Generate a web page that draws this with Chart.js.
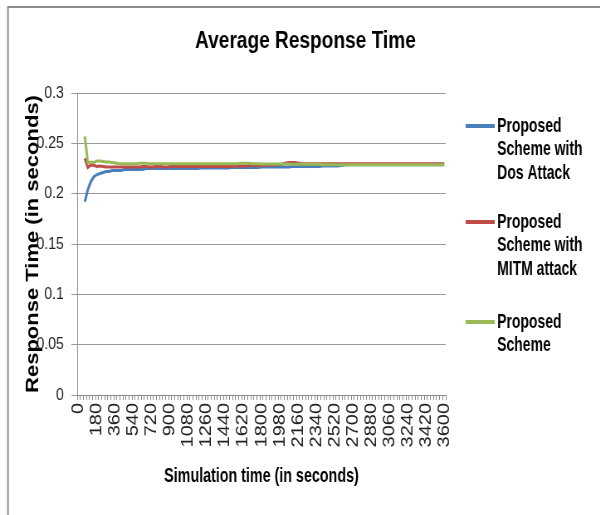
<!DOCTYPE html>
<html>
<head>
<meta charset="utf-8">
<script src="https://cdn.jsdelivr.net/npm/chart.js@4/dist/chart.umd.min.js"></script>
<style>
  html, body { margin: 0; padding: 0; background: #fff; overflow: hidden; width: 600px; height: 515px; }
  /* the chart is laid out on a wider box and narrowed horizontally */
  #wrap { position: absolute; left: 0; top: 0; width: 723px; height: 515px; transform: scaleX(0.83); transform-origin: 0 0; }
</style>
</head>
<body>
<div id="wrap"><canvas id="chart"></canvas></div>
<script>
// Simulation time (s), one sample every 30 s
const simTimes = [
  0,30,60,90,120,150,180,210,240,270,300,330,360,390,420,450,480,510,540,570,
  600,630,660,690,720,750,780,810,840,870,900,930,960,990,1020,1050,1080,1110,1140,1170,
  1200,1230,1260,1290,1320,1350,1380,1410,1440,1470,1500,1530,1560,1590,1620,1650,1680,1710,1740,1770,
  1800,1830,1860,1890,1920,1950,1980,2010,2040,2070,2100,2130,2160,2190,2220,2250,2280,2310,2340,2370,
  2400,2430,2460,2490,2520,2550,2580,2610,2640,2670,2700,2730,2760,2790,2820,2850,2880,2910,2940,2970,
  3000,3030,3060,3090,3120,3150,3180,3210,3240,3270,3300,3330,3360,3390,3420,3450,3480,3510,3540,3570,
  3600
];

// Times that get a printed label on the x axis
const xTickLabels = [0,180,360,540,720,900,1080,1260,1440,1620,1800,1980,2160,2340,2520,2700,2880,3060,3240,3420,3600];

// Y axis tick labels
const yTickLabels = ['0','0.05','0.1','0.15','0.2','0.25','0.3'];

// Average response time (s)
const dosAttack = [
  null,null,0.192,0.204,0.212,0.217,0.219,0.220,0.221,0.222,
  0.222,0.223,0.223,0.223,0.223,0.224,0.224,0.224,0.224,0.224,
  0.224,0.224,0.225,0.225,0.225,0.225,0.225,0.225,0.225,0.225,
  0.225,0.225,0.225,0.225,0.225,0.225,0.225,0.225,0.225,0.225,
  0.2255,0.2255,0.2255,0.2255,0.2255,0.2255,0.2255,0.2255,0.2255,0.2255,
  0.226,0.226,0.226,0.226,0.226,0.226,0.226,0.226,0.226,0.226,
  0.2265,0.2265,0.2265,0.2265,0.2265,0.2265,0.2265,0.2265,0.2265,0.2265,
  0.227,0.227,0.227,0.227,0.227,0.227,0.227,0.227,0.227,0.227,
  0.2275,0.2275,0.2275,0.2275,0.2275,0.2275,0.228,0.2285,0.2288,0.2288,
  0.2288,0.2288,0.2288,0.2288,0.2288,0.2288,0.2288,0.2288,0.2288,0.2288,
  0.2288,0.2288,0.2288,0.2288,0.2288,0.2288,0.2288,0.2288,0.2288,0.2288,
  0.2288,0.2288,0.2288,0.2288,0.2288,0.2288,0.2288,0.2288,0.2288,0.2288,
  0.2288
];

const mitmAttack = [
  null,null,0.235,0.226,0.2285,0.228,0.227,0.2275,0.227,0.2265,
  0.2265,0.2265,0.2265,0.2265,0.2265,0.2265,0.2265,0.2265,0.2265,0.2265,
  0.2265,0.227,0.227,0.2265,0.2265,0.227,0.227,0.227,0.2265,0.2265,
  0.227,0.227,0.227,0.227,0.227,0.227,0.227,0.227,0.227,0.227,
  0.227,0.227,0.227,0.227,0.227,0.227,0.227,0.227,0.227,0.227,
  0.227,0.227,0.2275,0.2275,0.2275,0.2275,0.228,0.228,0.228,0.228,
  0.228,0.228,0.2285,0.2285,0.2285,0.229,0.229,0.2295,0.2305,0.231,
  0.231,0.231,0.2305,0.2298,0.2298,0.2298,0.2298,0.2298,0.2298,0.2298,
  0.2298,0.2298,0.2298,0.2298,0.2298,0.2298,0.2298,0.2298,0.2298,0.2298,
  0.2298,0.2298,0.2298,0.2298,0.2298,0.2298,0.2298,0.2298,0.2298,0.2298,
  0.2298,0.2298,0.2298,0.2298,0.2298,0.2298,0.2298,0.2298,0.2298,0.2298,
  0.2298,0.2298,0.2298,0.2298,0.2298,0.2298,0.2298,0.2298,0.2298,0.2298,
  0.2298
];

const proposed = [
  null,null,0.257,0.2305,0.2315,0.231,0.2325,0.2325,0.232,0.2315,
  0.2315,0.231,0.2305,0.230,0.2298,0.2298,0.2298,0.2298,0.2298,0.2298,
  0.2302,0.2303,0.2302,0.2298,0.2296,0.2296,0.2296,0.2296,0.2296,0.2296,
  0.2296,0.2296,0.2296,0.2296,0.2296,0.2296,0.2296,0.2296,0.2296,0.2296,
  0.2296,0.2296,0.2296,0.2296,0.2296,0.2296,0.2296,0.2296,0.2296,0.2296,
  0.2296,0.2296,0.2296,0.2302,0.2303,0.2303,0.2302,0.2298,0.2296,0.2296,
  0.2294,0.2294,0.2294,0.2294,0.2294,0.2294,0.2294,0.2294,0.2294,0.2294,
  0.2292,0.2292,0.2292,0.2292,0.2292,0.2292,0.2292,0.2292,0.2292,0.2292,
  0.2288,0.2288,0.2288,0.2288,0.2288,0.2288,0.2288,0.2288,0.2288,0.2288,
  0.2288,0.2288,0.2288,0.2288,0.2288,0.2288,0.2288,0.2288,0.2288,0.2288,
  0.2288,0.2288,0.2288,0.2288,0.2288,0.2288,0.2288,0.2288,0.2288,0.2288,
  0.2288,0.2288,0.2288,0.2288,0.2288,0.2288,0.2288,0.2288,0.2288,0.2288,
  0.2288
];

// Legend entries, one array of lines per series
const seriesNames = [
  ['Proposed', 'Scheme with', 'Dos Attack'],
  ['Proposed', 'Scheme with', 'MITM attack'],
  ['Proposed', 'Scheme']
];
const seriesColors = ['#4a7ebb', '#be4b48', '#98b954'];

// Is the narrow face installed?
function fontAvailable(name) {
  const c = document.createElement('canvas').getContext('2d');
  c.font = 'bold 40px monospace';
  const a = c.measureText('Proposed Scheme').width;
  c.font = 'bold 40px "' + name + '", monospace';
  const b = c.measureText('Proposed Scheme').width;
  return Math.abs(a - b) > 0.5;
}
const HAS_NARROW = fontAvailable('Liberation Sans Narrow');

function narrowText(ctx, text, x, y, size, align) {
  ctx.save();
  ctx.fillStyle = '#000';
  ctx.textBaseline = 'middle';
  ctx.textAlign = align;
  if (HAS_NARROW) {
    ctx.font = 'bold ' + size + 'px "Liberation Sans Narrow"';
    ctx.fillText(text, x, y);
  } else {
    ctx.translate(x, y);
    ctx.scale(0.82, 1);
    ctx.font = 'bold ' + size + 'px "Liberation Sans", Arial, sans-serif';
    ctx.fillText(text, 0, 0);
  }
  ctx.restore();
}

// Frame, title, x-axis title and the multi-line legend
const decorations = {
  id: 'decorations',
  afterDraw(chart) {
    const ctx = chart.ctx;
    const area = chart.chartArea;
    ctx.save();
    // outer frame (top and left edges)
    ctx.strokeStyle = '#8c8c8c';
    ctx.lineWidth = 2;
    ctx.beginPath();
    ctx.moveTo(9.6, 515);
    ctx.lineTo(9.6, 7);
    ctx.lineTo(723, 7);
    ctx.stroke();

    // chart title
    ctx.fillStyle = '#000';
    ctx.font = 'bold 23px "Liberation Sans", Arial, sans-serif';
    ctx.textAlign = 'center';
    ctx.textBaseline = 'middle';
    ctx.fillText('Average Response Time', 368, 42);

    // x-axis title
    narrowText(ctx, 'Simulation time (in seconds)', (area.left + area.right) / 2, 476, 21, 'center');

    // legend
    const entryTop = [126, 222, 322];
    const lineGap = 23.5;
    chart.data.datasets.forEach((ds, i) => {
      const y0 = entryTop[i];
      ctx.strokeStyle = ds.borderColor;
      ctx.lineWidth = 4;
      ctx.beginPath();
      ctx.moveTo(561, y0);
      ctx.lineTo(596, y0);
      ctx.stroke();
      seriesNames[i].forEach((line, k) => {
        narrowText(ctx, line, 599, y0 + k * lineGap, 20.5, 'left');
      });
    });
    ctx.restore();
  }
};

const chart = new Chart(document.getElementById('chart'), {
  type: 'line',
  data: {
    labels: simTimes,
    datasets: [
      { label: seriesNames[0].join(' '), data: dosAttack,  borderColor: seriesColors[0], order: 3 },
      { label: seriesNames[1].join(' '), data: mitmAttack, borderColor: seriesColors[1], order: 2 },
      { label: seriesNames[2].join(' '), data: proposed,   borderColor: seriesColors[2], order: 1 }
    ].map(d => Object.assign(d, { borderWidth: 3, pointRadius: 0, tension: 0, fill: false }))
  },
  options: {
    responsive: true,
    maintainAspectRatio: false,
    animation: false,
    devicePixelRatio: 1,
    layout: { padding: { top: 93, left: 0, right: 186, bottom: 0 } },
    plugins: { legend: { display: false }, title: { display: false }, tooltip: { enabled: false } },
    scales: {
      x: {
        type: 'category',
        offset: true,
        grid: { display: true, drawOnChartArea: false, drawTicks: true, tickLength: 5, color: '#8c8c8c', offset: true },
        border: { display: true, color: '#8c8c8c', width: 1 },
        ticks: {
          autoSkip: false,
          maxRotation: 90,
          minRotation: 90,
          padding: 3,
          color: '#222',
          font: { family: '"Liberation Sans", Arial, sans-serif', size: 20 },
          callback(value) {
            const t = this.getLabelForValue(value);
            return xTickLabels.includes(Number(t)) ? String(t) : '';
          }
        },
        afterFit(scale) { scale.height = 120; }
      },
      y: {
        min: 0,
        max: 0.3,
        ticks: {
          stepSize: 0.05,
          padding: 9,
          color: '#222',
          font: { family: '"Liberation Sans", Arial, sans-serif', size: 17 },
          callback(value) {
            const idx = Math.round(value / 0.05);
            return yTickLabels[idx];
          }
        },
        grid: { color: '#9a9a9a', lineWidth: 1, tickLength: 7, drawTicks: true },
        border: { display: true, color: '#8c8c8c', width: 1 },
        title: {
          display: true,
          text: 'Response Time (in seconds)',
          color: '#000',
          font: { family: '"Liberation Sans", Arial, sans-serif', size: 22, weight: 'bold' },
          padding: { top: 26.6, bottom: 0 }
        },
        afterFit(scale) { scale.width = 93; }
      }
    }
  },
  plugins: [decorations]
});
</script>
</body>
</html>
